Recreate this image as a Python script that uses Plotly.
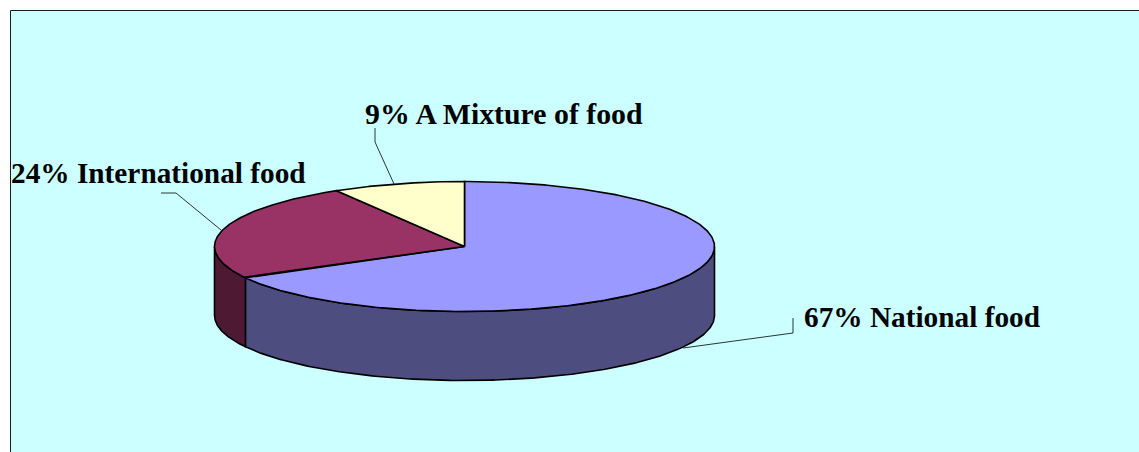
import numpy as np
import plotly.graph_objects as go

# Data: shares; they round to the printed 67 / 24 / 9
categories = ["National food", "International food", "A Mixture of food"]
values = [67.0, 24.45, 8.55]

# Layout and style
top_colors = ["#9999FF", "#993366", "#FFFFCC"]
side_colors = ["#4D4D80", "#4D1933", "#808066"]
label_x = [803, 10, 364]
label_y = [317, 173, 113]
label_size = [29.3, 29.3, 29.8]
leader_x = [[793, 793, 683], [161, 176, 221], [375, 375, 394]]
leader_y = [[318, 333, 348], [193, 193, 230], [128, 142, 184]]

W, H = 1139, 452
CX, CY, RX, RY, DEPTH = 464.5, 246.5, 250, 65, 69
LINE = "#000000"


def ex(a):
    return CX + RX * np.sin(a)


def ey(a):
    return CY - RY * np.cos(a)


fig = go.Figure()

# frame
fig.add_shape(type="rect", x0=10.5, x1=W + 5, y0=10.5, y1=H + 5,
              fillcolor="#CCFFFF", line=dict(color="#1a1a1a", width=1), layer="below")

edges = np.deg2rad(np.cumsum([0] + values) * 3.6)

# side walls, only where the rim faces the viewer (90deg to 270deg)
for i in range(len(values)):
    lo = max(edges[i], np.pi / 2)
    hi = min(edges[i + 1], 3 * np.pi / 2)
    if hi <= lo:
        continue
    a = np.linspace(lo, hi, 200)
    xs = np.r_[ex(a), ex(a[::-1]), ex(a[0])]
    ys = np.r_[ey(a), ey(a[::-1]) + DEPTH, ey(a[0])]
    fig.add_trace(go.Scatter(x=xs, y=ys, mode="lines", fill="toself",
                             fillcolor=side_colors[i], hoverinfo="skip",
                             line=dict(color=LINE, width=1.6)))

# top slices
for i in range(len(values)):
    a = np.linspace(edges[i], edges[i + 1], 300)
    xs = np.r_[CX, ex(a), CX]
    ys = np.r_[CY, ey(a), CY]
    fig.add_trace(go.Scatter(x=xs, y=ys, mode="lines", fill="toself",
                             fillcolor=top_colors[i], name=categories[i],
                             line=dict(color=LINE, width=1.6)))

# leader lines
for lx, ly in zip(leader_x, leader_y):
    fig.add_trace(go.Scatter(x=lx, y=ly, mode="lines", hoverinfo="skip",
                             line=dict(color=LINE, width=0.8)))

for name, v, x, y, s in zip(categories, values, label_x, label_y, label_size):
    fig.add_annotation(x=x, y=y, text="<b>%d%% %s</b>" % (round(v), name), showarrow=False,
                       xanchor="left", yanchor="middle", xshift=-1,
                       font=dict(family="Liberation Serif", size=s, color="#000000"))

fig.update_layout(
    width=W, height=H, autosize=False, showlegend=False,
    margin=dict(l=0, r=0, t=0, b=0),
    paper_bgcolor="#FFFFFF", plot_bgcolor="rgba(0,0,0,0)",
    xaxis=dict(range=[0, W], visible=False, fixedrange=True),
    yaxis=dict(range=[H, 0], visible=False, fixedrange=True),
)
fig.write_html("out.html", config={"displayModeBar": False},
               post_script="document.body.style.margin='0';document.documentElement.style.overflow='hidden';")
